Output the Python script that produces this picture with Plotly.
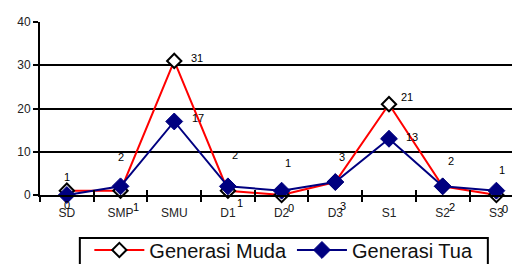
import plotly.graph_objects as go

categories = ["SD", "SMP", "SMU", "D1", "D2", "D3", "S1", "S2", "S3"]
muda = [1, 1, 31, 1, 0, 3, 21, 2, 0]
tua = [0, 2, 17, 2, 1, 3, 13, 2, 1]
y_ticks = [0, 10, 20, 30, 40]

# label offsets in pixels (style)
muda_dx = [0, 15, 23, 12, 9, 8, 18, 9, 9]
muda_dy = [14, -16, 3, -12, -13, -24, 7, -21, -14]
tua_dx = [0, 0, 24, 7, 6, 7, 23, 8, 6]
tua_dy = [-10, 29, 3, 31, 28, 25, 2, 25, 21]

FONT = "Liberation Sans, Arial, sans-serif"

fig = go.Figure()
fig.add_trace(go.Scatter(
    x=categories, y=muda, name="Generasi Muda", mode="lines+markers",
    line=dict(color="#ff0000", width=2),
    marker=dict(symbol="diamond", size=11, color="white",
                line=dict(color="black", width=2)),
    cliponaxis=False,
))
fig.add_trace(go.Scatter(
    x=categories, y=tua, name="Generasi Tua", mode="lines+markers",
    line=dict(color="#000080", width=2),
    marker=dict(symbol="diamond", size=13, color="#000080",
                line=dict(color="#000080", width=1)),
    cliponaxis=False,
))
# boundary tick overlay (inside part of the crossing ticks)
fig.add_trace(go.Scatter(x=[0], y=[0], xaxis="x2", mode="markers",
                         marker=dict(opacity=0), showlegend=False, hoverinfo="skip"))

annotations = []
for i, c in enumerate(categories):
    annotations.append(dict(x=i, y=muda[i], xref="x", yref="y", text=str(muda[i]),
                            showarrow=False, xshift=muda_dx[i], yshift=muda_dy[i],
                            font=dict(family=FONT, size=11, color="#000000")))
    annotations.append(dict(x=i, y=tua[i], xref="x", yref="y", text=str(tua[i]),
                            showarrow=False, xshift=tua_dx[i], yshift=tua_dy[i],
                            font=dict(family=FONT, size=11, color="#000000")))

fig.update_layout(
    width=520, height=264,
    margin=dict(l=32, r=8, t=14, b=77, autoexpand=False),
    paper_bgcolor="white", plot_bgcolor="white",
    font=dict(family=FONT, size=11, color="#222"),
    showlegend=True,
    legend=dict(orientation="h", x=0.508, xanchor="center", y=-0.205, yanchor="top",
                borderwidth=0, bgcolor="rgba(0,0,0,0)",
                font=dict(family=FONT, size=20, color="#111"),
                itemwidth=50, tracegroupgap=0),
    shapes=[dict(type="rect", xref="paper", yref="paper",
                 x0=0.083, x1=0.933, y0=-0.249, y1=-0.6,
                 line=dict(color="black", width=2), fillcolor="rgba(0,0,0,0)", layer="below")],
    annotations=annotations,
    xaxis=dict(type="category", range=[-0.5, 8.44], tickson="boundaries",
               ticks="outside", ticklen=5, tickwidth=2, tickcolor="black",
               ticklabelstandoff=6,
               showline=True, linecolor="black", linewidth=2,
               showgrid=False, zeroline=False,
               tickfont=dict(family=FONT, size=12, color="#222")),
    xaxis2=dict(overlaying="x", range=[-0.5, 8.44], side="bottom",
                tickvals=[0.5, 1.5, 2.5, 3.5, 4.5, 5.5, 6.5, 7.5],
                ticks="inside", ticklen=5, tickwidth=2, tickcolor="black",
                showticklabels=False, showgrid=False, zeroline=False, showline=False),
    yaxis=dict(range=[0, 40], tickvals=y_ticks, ticks="outside", ticklen=5,
               tickwidth=2, tickcolor="black",
               showline=True, linecolor="black", linewidth=2,
               showgrid=True, gridcolor="black", gridwidth=2, zeroline=False,
               tickfont=dict(family=FONT, size=12, color="#222")),
)

fig.write_html("out.html")
